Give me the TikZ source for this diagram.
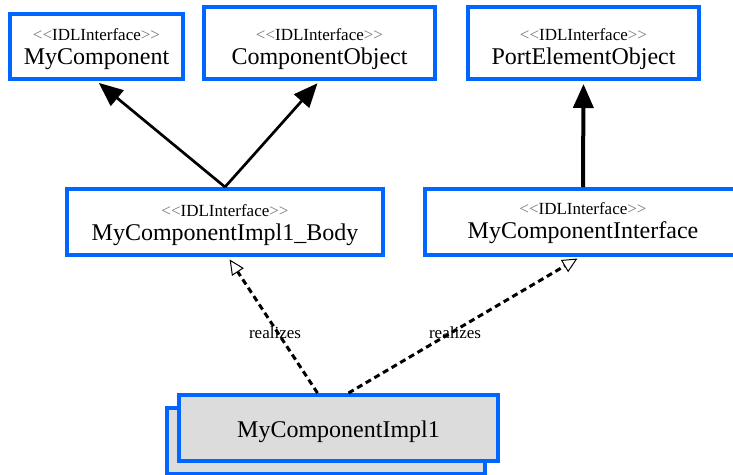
\documentclass[tikz,border=0pt]{standalone}
\usepackage{fontspec}
\setmainfont{Liberation Serif}
\usetikzlibrary{arrows.meta,calc}
\definecolor{uiblue}{RGB}{0,102,255}
\definecolor{implgray}{RGB}{220,220,220}
\definecolor{ltgray}{RGB}{120,120,120}
\newcommand{\stereotxt}{{\color{ltgray}<{}<}IDLInterface{\color{ltgray}>{}>}}
\begin{document}
\begin{tikzpicture}[x=1pt,y=-1pt,
  umlbox/.style={draw=uiblue, line width=4pt, fill=white, inner sep=0pt},
  implbox/.style={draw=uiblue, line width=4pt, fill=implgray, inner sep=0pt,
     minimum width=319pt, minimum height=66pt},
  stereo/.style={font=\fontsize{17}{17}\selectfont, anchor=base, inner sep=0pt},
  cname/.style={font=\fontsize{24}{24}\selectfont, anchor=base, inner sep=0pt},
  lbl/.style={font=\fontsize{17}{17}\selectfont, inner sep=0pt},
  gen/.style={draw=black, line width=2.7pt, -{Triangle[length=24pt,width=20pt]}, shorten >=3pt},
  genthick/.style={draw=black, line width=4pt, -{Triangle[length=24pt,width=20pt]}, shorten >=3pt},
  real/.style={draw=black, line width=3pt, dash pattern=on 6pt off 4pt,
     -{Triangle[open,length=15pt,width=14pt,line width=1pt]}, shorten >=3pt}
]
\useasboundingbox (0,0) rectangle (733,474);
\clip (0,0) rectangle (733,474);

% top row
\node[umlbox, minimum width=173pt, minimum height=65pt] (mc) at (96.5,46.5) {};
\node[stereo] (mcs) at ($(mc.south)+(0,-41)$) {\stereotxt};
\node[cname] (mcn) at ($(mc.south)+(0,-17)$) {MyComponent};

\node[umlbox, minimum width=231pt, minimum height=72pt] (co) at (319.5,43) {};
\node[stereo] (cos) at ($(co.south)+(0,-41)$) {\stereotxt};
\node[cname] (con) at ($(co.south)+(0,-17)$) {ComponentObject};

\node[umlbox, minimum width=231pt, minimum height=72pt] (pe) at (583.5,43) {};
\node[stereo] (pes) at ($(pe.south)+(0,-41)$) {\stereotxt};
\node[cname] (pen) at ($(pe.south)+(0,-17)$) {PortElementObject};

% middle row
\node[umlbox, minimum width=316pt, minimum height=66pt] (body) at (225,222) {};
\node[stereo] (bodys) at ($(body.south)+(0,-41)$) {\stereotxt};
\node[cname] (bodyn) at ($(body.south)+(0,-17)$) {MyComponentImpl1\_Body};

\node[umlbox, minimum width=330pt, minimum height=66pt] (mi) at (590,222) {};
\coordinate (mic) at (583,222);
\node[stereo] (mist) at ($(mic)+(0,-8)$) {\stereotxt};
\node[cname] (mina) at ($(mic)+(0,16)$) {MyComponentInterface};

% bottom component
\node[implbox, minimum width=318pt] (implback) at (326,441) {};
\node[implbox] (impl) at (338.5,428) {};
\node[cname] (impln) at ($(impl.center)+(0,9)$) {MyComponentImpl1};

% generalizations
\draw[gen] (body.north) -- (mc.south);
\draw[gen] (body.north) -- (co.south);
\draw[genthick] (mi.north -| mic) -- (pe.south);

% realizations
\coordinate (r1s) at ($(impl.north)+(-21,0)$);
\coordinate (r1e) at ($(body.south)+(3,0)$);
\coordinate (r2s) at ($(impl.north)+(10,0)$);
\coordinate (r2e) at ($(mi.south -| mic)+(-3,0)$);
\draw[real] (r1s) -- (r1e);
\draw[real] (r2s) -- (r2e);
\node[lbl] (l1) at (275,333) {realizes};
\node[lbl] (l2) at (455,333) {realizes};
\end{tikzpicture}
\end{document}
